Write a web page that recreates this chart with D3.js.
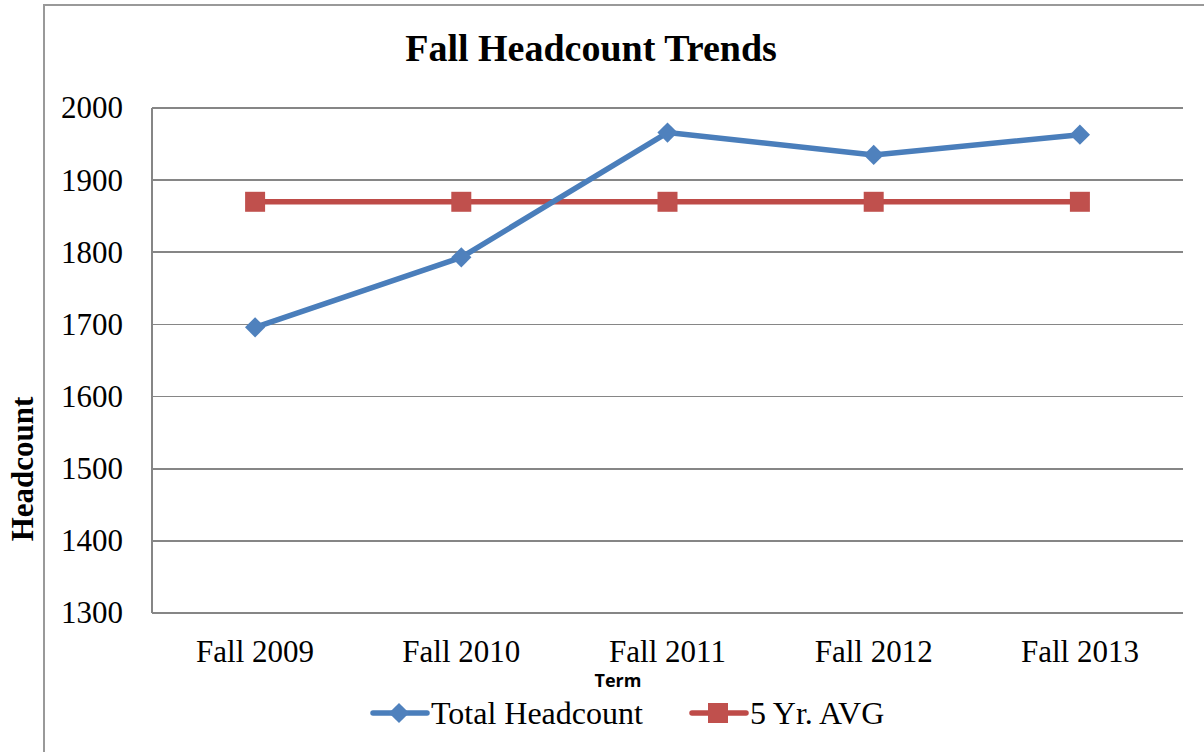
<!DOCTYPE html>
<html>
<head>
<meta charset="utf-8">
<script src="https://cdn.jsdelivr.net/npm/d3@7"></script>
<style>
    body { margin: 0; background: #fff; }
    .grid line { stroke: #868686; stroke-width: 1.6px; shape-rendering: crispEdges; }
    .yAxis text, .xAxis text { font-family: "Liberation Serif", "Times New Roman", serif; font-size: 31px; fill: #000; }
    .title { font-family: "Liberation Serif", serif; font-weight: bold; font-size: 38px; }
    .legend text { font-family: "Liberation Serif", serif; font-size: 32px; }
</style>
</head>
<body>
<div id="chart"></div>
<script>
    // data
    var terms = ["Fall 2009", "Fall 2010", "Fall 2011", "Fall 2012", "Fall 2013"];
    var totalHeadcount = [1696, 1793, 1966, 1935, 1963];
    var fiveYrAvg = [1870, 1870, 1870, 1870, 1870];
    var yTicks = [1300, 1400, 1500, 1600, 1700, 1800, 1900, 2000];
    var seriesNames = ["Total Headcount", "5 Yr. AVG"];

    var width = 1204, height = 752;
    var plot = { left: 152, right: 1183, top: 108, bottom: 613 };

    var svg = d3.select("#chart")
        .append("svg")
        .attr("width", width)
        .attr("height", height);

    // chart border (only left and top visible)
    svg.append("path")
        .attr("d", "M44,752 V5 H1204")
        .attr("fill", "none")
        .attr("stroke", "#999")
        .attr("stroke-width", 2);

    var x = d3.scaleBand().domain(terms).range([plot.left, plot.right]);
    var y = d3.scaleLinear().domain([1300, 2000]).range([plot.bottom, plot.top]);

    // gridlines
    svg.append("g").attr("class", "grid")
        .selectAll("line")
        .data(yTicks)
        .join("line")
        .attr("x1", plot.left).attr("x2", plot.right)
        .attr("y1", d => y(d)).attr("y2", d => y(d));
    svg.append("line")
        .attr("x1", plot.left).attr("x2", plot.left)
        .attr("y1", plot.top).attr("y2", plot.bottom)
        .attr("stroke", "#868686").attr("stroke-width", 1.6)
        .attr("shape-rendering", "crispEdges");

    // axes
    var yAxis = svg.append("g")
        .attr("class", "yAxis")
        .attr("transform", "translate(" + plot.left + ",0)")
        .call(d3.axisLeft(y).tickValues(yTicks).tickSize(0).tickPadding(29).tickFormat(d3.format("d")));
    yAxis.select(".domain").remove();

    var xAxis = svg.append("g")
        .attr("class", "xAxis")
        .attr("transform", "translate(0," + plot.bottom + ")")
        .call(d3.axisBottom(x).tickSize(0).tickPadding(27));
    xAxis.select(".domain").remove();

    // title and axis titles
    svg.append("text")
        .attr("class", "title")
        .attr("x", 591).attr("y", 61)
        .attr("text-anchor", "middle")
        .text("Fall Headcount Trends");

    svg.append("text")
        .attr("transform", "translate(33,469) rotate(-90)")
        .attr("text-anchor", "middle")
        .attr("font-family", "Liberation Serif, serif")
        .attr("font-weight", "bold")
        .attr("font-size", 31)
        .text("Headcount");

    svg.append("text")
        .attr("x", 618).attr("y", 687)
        .attr("text-anchor", "middle")
        .attr("font-family", "Open Sans, sans-serif")
        .attr("font-weight", "bold")
        .attr("font-size", 18)
        .text("Term");

    // lines
    var line = d3.line()
        .x((d, i) => x(terms[i]) + x.bandwidth() / 2)
        .y(d => y(d));

    var blue = "#4A7EBB", blueMark = "#4F81BD";
    var red = "#BE4B48", redMark = "#C0504D";

    svg.append("path")
        .datum(fiveYrAvg)
        .attr("fill", "none")
        .attr("stroke", red)
        .attr("stroke-width", 5.5)
        .attr("stroke-linejoin", "round")
        .attr("d", line);

    svg.append("path")
        .datum(totalHeadcount)
        .attr("fill", "none")
        .attr("stroke", blue)
        .attr("stroke-width", 5.5)
        .attr("stroke-linejoin", "round")
        .attr("d", line);

    var diamond = d3.symbol().type(d3.symbolSquare).size(205);
    var square = d3.symbol().type(d3.symbolSquare).size(400);

    svg.append("g").selectAll("path")
        .data(fiveYrAvg)
        .join("path")
        .attr("d", square)
        .attr("fill", redMark)
        .attr("transform", (d, i) => "translate(" + (x(terms[i]) + x.bandwidth() / 2) + "," + y(d) + ")");

    svg.append("g").selectAll("path")
        .data(totalHeadcount)
        .join("path")
        .attr("d", diamond)
        .attr("fill", blueMark)
        .attr("transform", (d, i) => "translate(" + (x(terms[i]) + x.bandwidth() / 2) + "," + y(d) + ") rotate(45)");

    // legend
    var legend = svg.append("g").attr("class", "legend");
    var items = [
        { name: seriesNames[0], x0: 371, color: blue, mark: blueMark, sym: diamond, rot: 45 },
        { name: seriesNames[1], x0: 690, color: red, mark: redMark, sym: square, rot: 0 }
    ];
    items.forEach(function (it) {
        var g = legend.append("g").attr("transform", "translate(" + it.x0 + ",713)");
        g.append("line")
            .attr("x1", 2).attr("x2", 56)
            .attr("stroke", it.color).attr("stroke-width", 5.5)
            .attr("stroke-linecap", "round");
        g.append("path")
            .attr("d", it.sym)
            .attr("fill", it.mark)
            .attr("transform", "translate(28,0) rotate(" + it.rot + ")");
        g.append("text")
            .attr("x", 60).attr("y", 11)
            .text(it.name);
    });
</script>
</body>
</html>
